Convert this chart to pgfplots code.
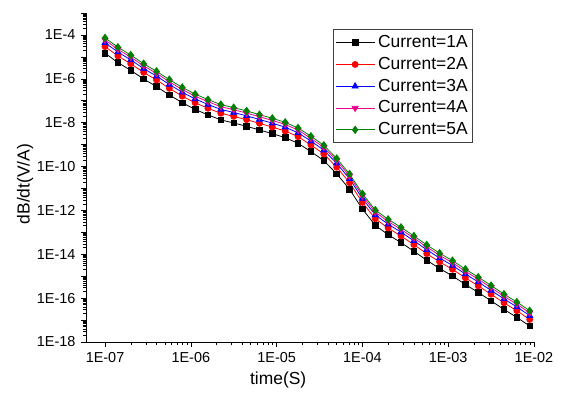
\documentclass[border=0pt]{standalone}
\usepackage{pgfplots}
\pgfplotsset{compat=1.18}
\usepackage{pgfplotstable}
\usepackage{fontspec}
\setmainfont{Liberation Sans}

% time (s) and dB/dt (V/A) for currents 1..5 A
\pgfplotstableread{
t        c1        c2        c3        c4        c5
1.000e-7 1.47e-5   2.94e-5   4.41e-5   5.88e-5   7.35e-5
1.413e-7 5.51e-6   1.102e-5  1.653e-5  2.204e-5  2.755e-5
1.995e-7 2.43e-6   4.86e-6   7.29e-6   9.72e-6   1.215e-5
2.818e-7 9.79e-7   1.958e-6  2.937e-6  3.916e-6  4.895e-6
3.981e-7 4.42e-7   8.84e-7   1.326e-6  1.768e-6  2.21e-6
5.623e-7 1.84e-7   3.68e-7   5.52e-7   7.36e-7   9.2e-7
7.943e-7 8.11e-8   1.622e-7  2.433e-7  3.244e-7  4.055e-7
1.122e-6 4.03e-8   8.06e-8   1.209e-7  1.612e-7  2.015e-7
1.585e-6 2.26e-8   4.52e-8   6.78e-8   9.04e-8   1.13e-7
2.239e-6 1.34e-8   2.68e-8   4.02e-8   5.36e-8   6.7e-8
3.162e-6 9.68e-9   1.936e-8  2.904e-8  3.872e-8  4.84e-8
4.467e-6 6.85e-9   1.37e-8   2.055e-8  2.74e-8   3.425e-8
6.310e-6 4.66e-9   9.32e-9   1.398e-8  1.864e-8  2.33e-8
8.913e-6 3.16e-9   6.32e-9   9.48e-9   1.264e-8  1.58e-8
1.259e-5 2.08e-9   4.16e-9   6.24e-9   8.32e-9   1.04e-8
1.778e-5 1.15e-9   2.3e-9    3.45e-9   4.6e-9    5.75e-9
2.512e-5 4.81e-10  9.62e-10  1.443e-9  1.924e-9  2.405e-9
3.548e-5 1.87e-10  3.74e-10  5.61e-10  7.48e-10  9.35e-10
5.012e-5 4.66e-11  9.32e-11  1.398e-10 1.864e-10 2.33e-10
7.079e-5 9.2e-12   1.84e-11  2.76e-11  3.68e-11  4.6e-11
1.000e-4 1.16e-12  2.32e-12  3.48e-12  4.64e-12  5.8e-12
1.413e-4 2.08e-13  4.16e-13  6.24e-13  8.32e-13  1.04e-12
1.995e-4 7.85e-14  1.57e-13  2.355e-13 3.14e-13  3.925e-13
2.818e-4 3.4e-14   6.8e-14   1.02e-13  1.36e-13  1.7e-13
3.981e-4 1.37e-14  2.74e-14  4.11e-14  5.48e-14  6.85e-14
5.623e-4 5.33e-15  1.066e-14 1.599e-14 2.132e-14 2.665e-14
7.943e-4 2.24e-15  4.48e-15  6.72e-15  8.96e-15  1.12e-14
1.122e-3 1.03e-15  2.06e-15  3.09e-15  4.12e-15  5.15e-15
1.585e-3 4.2e-16   8.4e-16   1.26e-15  1.68e-15  2.1e-15
2.239e-3 1.82e-16  3.64e-16  5.46e-16  7.28e-16  9.1e-16
3.162e-3 7.53e-17  1.506e-16 2.259e-16 3.012e-16 3.765e-16
4.467e-3 3.06e-17  6.12e-17  9.18e-17  1.224e-16 1.53e-16
6.310e-3 1.33e-17  2.66e-17  3.99e-17  5.32e-17  6.65e-17
8.913e-3 5.33e-18  1.066e-17 1.599e-17 2.132e-17 2.665e-17
}\dBdt

\definecolor{ogreen}{RGB}{0,128,0}

\begin{document}
\begin{tikzpicture}
\begin{axis}[
    scale only axis,
    width=448bp, height=329bp,
    xmode=log, ymode=log,
    xmin=6e-8, xmax=1e-2,
    ymin=1e-18, ymax=1e-3,
    axis x line*=bottom, axis y line*=left,
    axis line style={-, line width=0.8bp},
    tick align=outside,
    major tick length=5bp, minor tick length=3bp,
    tick style={black, line width=0.6bp},
    xtick={1e-7,1e-6,1e-5,1e-4,1e-3,1e-2},
    xticklabels={1E-07,1E-06,1E-05,1E-04,1E-03,1E-02},
    ytick={1e-18,1e-17,1e-16,1e-15,1e-14,1e-13,1e-12,1e-11,1e-10,1e-9,1e-8,1e-7,1e-6,1e-5,1e-4,1e-3},
    yticklabels={1E-18,,1E-16,,1E-14,,1E-12,,1E-10,,1E-8,,1E-6,,1E-4,},
    tick label style={font=\fontsize{14.5}{17}\selectfont},
    xticklabel style={yshift=-2bp},
    yticklabel style={xshift=-2bp},
    xlabel={time(S)}, ylabel={dB/dt(V/A)},
    label style={font=\fontsize{17.5}{20}\selectfont},
    xlabel style={at={(axis description cs:0.429,-0.115)}, anchor=center},
    ylabel style={at={(axis description cs:-0.136,0.48)}, anchor=center},
    legend style={at={(axis description cs:0.551,0.950)}, anchor=north west,
        font=\fontsize{17.5}{20}\selectfont, draw=black!75, line width=0.8bp,
        inner xsep=2bp, inner ysep=3bp, row sep=2.2bp,
        nodes={text height=12.6bp, text depth=3bp, inner ysep=2bp, inner xsep=3bp}},
    legend cell align=left,
    legend image code/.code={
        \draw[mark repeat=2, mark phase=2] plot coordinates {(0bp,0bp) (19.5bp,0bp) (39bp,0bp)};},
    every axis plot/.append style={line width=0.8bp},
]
\coordinate (o) at (rel axis cs:0,0);
\addplot[black, mark=square*, mark size=2.8bp] table[x=t, y=c1] {\dBdt};
\addlegendentry{Current=1A}
\addplot[red, mark=*, mark size=3bp] table[x=t, y=c2] {\dBdt};
\addlegendentry{Current=2A}
\addplot[blue, mark=triangle*, mark size=3.5bp] table[x=t, y=c3] {\dBdt};
\addlegendentry{Current=3A}
\addplot[magenta, mark=triangle*, mark options={rotate=180}, mark size=3.5bp] table[x=t, y=c4] {\dBdt};
\addlegendentry{Current=4A}
\addplot[ogreen, mark=diamond*, mark size=3.6bp] table[x=t, y=c5] {\dBdt};
\addlegendentry{Current=5A}
\end{axis}
\path (o) ++(-86bp,-54bp) rectangle ++(561bp,396bp);
\end{tikzpicture}
\end{document}
